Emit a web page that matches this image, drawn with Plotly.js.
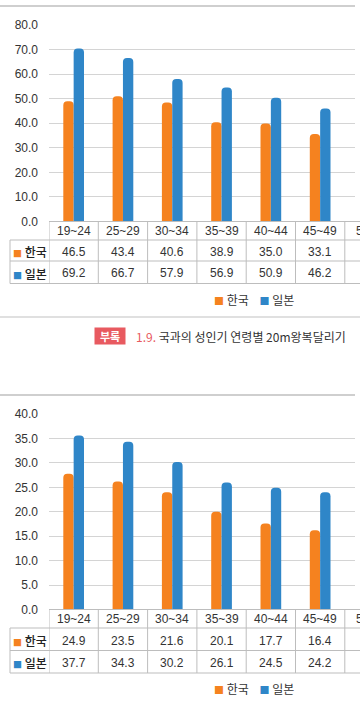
<!DOCTYPE html>
<html>
<head>
<meta charset="utf-8">
<script src="https://cdn.plot.ly/plotly-3.0.1.min.js"></script>
<style>html,body{margin:0;padding:0;background:#fff;}#chart{width:360px;height:705px;}</style>
</head>
<body>
<div id="chart"></div>
<script>
// ---------- data ----------
const ageGroups = ['19~24', '25~29', '30~34', '35~39', '40~44', '45~49'];
const nextGroup = '50~54';            // column cut off at the right edge
const seriesNames = ['한국', '일본'];
const seriesColors = ['#f5821f', '#2f86c8'];

// chart 1 (bar heights as drawn, and the values printed in its table)
const korea1Bars = [49.0, 51.0, 48.4, 40.4, 39.9, 35.6];
const japan1Bars = [70.4, 66.6, 58.0, 54.6, 50.4, 46.0];
const korea1Table = ['46.5', '43.4', '40.6', '38.9', '35.0', '33.1'];
const japan1Table = ['69.2', '66.7', '57.9', '56.9', '50.9', '46.2'];
const yTicks1 = [0, 10, 20, 30, 40, 50, 60, 70, 80];

// chart 2
const korea2Bars = [27.8, 26.2, 24.0, 20.0, 17.6, 16.2];
const japan2Bars = [35.6, 34.3, 30.2, 26.0, 24.9, 24.0];
const korea2Table = ['24.9', '23.5', '21.6', '20.1', '17.7', '16.4'];
const japan2Table = ['37.7', '34.3', '30.2', '26.1', '24.5', '24.2'];
const yTicks2 = [0, 5, 10, 15, 20, 25, 30, 35, 40];

const captionTag = '부록';
const captionNum = '1.9.';
const captionText = '국과의 성인기 연령별 20m왕복달리기';

// ---------- layout helpers ----------
const W = 360, H = 705;
const px = v => v / W;
const py = v => 1 - v / H;
const plotLeft = 49, plotRight = 355;
const catPx = 49.3;
const xRange = [-0.5, -0.5 + (plotRight - plotLeft) / catPx];
const FONT = 'Liberation Sans, Arial, Noto Sans CJK KR, sans-serif';
const KFONT = 'Noto Sans CJK KR, Liberation Sans, sans-serif';
const textColor = '#333333';
const lineColor = '#bdbdbd';
const gridColor = '#d4d4d4';

const charts = [
  {xa: 'x', ya: 'y', korea: korea1Bars, japan: japan1Bars, kt: korea1Table, jt: japan1Table,
   ticks: yTicks1, top: 25, zero: 221.5, headLine: 240, rowLine: 261, bottom: 283.5,
   headY: 231, row1Y: 251.5, row2Y: 273, legendY: 300, frameY: 6},
  {xa: 'x2', ya: 'y2', korea: korea2Bars, japan: japan2Bars, kt: korea2Table, jt: japan2Table,
   ticks: yTicks2, top: 414, zero: 609.5, headLine: 628, rowLine: 650.5, bottom: 673,
   headY: 619, row1Y: 640.5, row2Y: 662.5, legendY: 688, frameY: 395}
];

const traces = [];
const shapes = [];
const annotations = [];
const layout = {
  width: W, height: H,
  margin: {l: 0, r: 0, t: 0, b: 0},
  paper_bgcolor: '#ffffff', plot_bgcolor: '#ffffff',
  showlegend: false, hovermode: false,
  barmode: 'group', bargap: 0.58, bargroupgap: 0,
  font: {family: FONT, color: textColor, size: 12}
};

function note(o) {
  annotations.push(Object.assign({showarrow: false, xanchor: 'center', yanchor: 'middle'}, o));
}

charts.forEach((c, ci) => {
  const sfx = ci === 0 ? '' : '2';
  [c.korea, c.japan].forEach((vals, si) => {
    traces.push({
      type: 'bar', x: ageGroups, y: vals, name: seriesNames[si],
      xaxis: c.xa, yaxis: c.ya,
      marker: {color: seriesColors[si], cornerradius: 4, line: {width: 0}}
    });
  });
  layout['xaxis' + sfx] = {
    domain: [px(plotLeft), px(plotRight)], anchor: c.ya,
    type: 'category', categoryorder: 'array', categoryarray: ageGroups.concat([nextGroup]),
    range: xRange, showgrid: false, zeroline: false, showline: false,
    showticklabels: false, ticks: '', fixedrange: true
  };
  layout['yaxis' + sfx] = {
    domain: [py(c.zero), py(c.top)], anchor: c.xa,
    range: [0, c.ticks[c.ticks.length - 1]], tickvals: c.ticks, tickformat: '.1f',
    showgrid: true, gridcolor: gridColor, gridwidth: 1, zeroline: false, showline: false,
    ticks: '', ticklabelstandoff: 10,
    tickfont: {family: FONT, size: 12, color: textColor}, fixedrange: true
  };

  // top frame line
  shapes.push({type: 'line', xref: 'paper', yref: 'paper', x0: 0, x1: px(355),
    y0: py(c.frameY), y1: py(c.frameY), line: {color: '#cfcfcf', width: 2}});
  // table horizontal lines
  shapes.push({type: 'line', xref: 'paper', yref: 'paper', x0: px(plotLeft), x1: 1,
    y0: py(c.zero), y1: py(c.zero), line: {color: lineColor, width: 1}});
  [c.headLine, c.rowLine, c.bottom].forEach(yy => {
    shapes.push({type: 'line', xref: 'paper', yref: 'paper', x0: px(10), x1: 1,
      y0: py(yy), y1: py(yy), line: {color: lineColor, width: 1}});
  });
  // table vertical lines at category boundaries
  for (let k = 0; k <= ageGroups.length; k++) {
    shapes.push({type: 'line', xref: c.xa, yref: 'paper', x0: k - 0.5, x1: k - 0.5,
      y0: py(c.zero), y1: py(c.bottom), line: {color: lineColor, width: 1}});
  }
  shapes.push({type: 'line', xref: 'paper', yref: 'paper', x0: px(10), x1: px(10),
    y0: py(c.headLine), y1: py(c.bottom), line: {color: lineColor, width: 1}});

  // table cells
  ageGroups.forEach((g, i) => {
    note({xref: c.xa, yref: 'paper', x: g, y: py(c.headY), text: g,
      font: {family: FONT, size: 12, color: textColor}});
    note({xref: c.xa, yref: 'paper', x: g, y: py(c.row1Y), text: c.kt[i],
      font: {family: FONT, size: 12, color: textColor}});
    note({xref: c.xa, yref: 'paper', x: g, y: py(c.row2Y), text: c.jt[i],
      font: {family: FONT, size: 12, color: textColor}});
  });
  // partially visible next column header (starts just inside the right edge)
  note({xref: c.xa, yref: 'paper', x: ageGroups[ageGroups.length - 1], xshift: catPx * 0.68,
    xanchor: 'left', y: py(c.headY), text: nextGroup, font: {family: FONT, size: 12, color: textColor}});
  // row labels
  [c.row1Y, c.row2Y].forEach((yy, si) => {
    note({xref: 'paper', yref: 'paper', x: px(30), y: py(yy),
      text: '<span style="color:' + seriesColors[si] + ';font-size:9px">■</span> ' + seriesNames[si],
      font: {family: KFONT, size: 12, color: '#222222', weight: 500}});
  });
  // legend
  note({xref: 'paper', yref: 'paper', x: px(212), y: py(c.legendY), xanchor: 'left',
    text: seriesNames.map((n, si) => '<span style="color:' + seriesColors[si] + ';font-size:10px">■</span> ' + n).join('    '),
    font: {family: KFONT, size: 12, color: textColor}});
});

// separator between the two charts
shapes.push({type: 'line', xref: 'paper', yref: 'paper', x0: 0, x1: 1,
  y0: py(317), y1: py(317), line: {color: '#d6d6d6', width: 1.5}});
// caption
note({xref: 'paper', yref: 'paper', x: px(110), y: py(336), text: '&nbsp;&nbsp;' + captionTag + '&nbsp;&nbsp;',
  bgcolor: '#e85a60', borderpad: 0, font: {family: KFONT, size: 11, color: '#ffffff', weight: 'bold'}});
note({xref: 'paper', yref: 'paper', x: px(134), y: py(336), xanchor: 'left',
  text: '<span style="color:#e85a60">' + captionNum + '</span> ' + captionText,
  font: {family: KFONT, size: 12, color: textColor}});

layout.shapes = shapes;
layout.annotations = annotations;

Plotly.newPlot('chart', traces, layout, {displayModeBar: false, staticPlot: true});
</script>
</body>
</html>
